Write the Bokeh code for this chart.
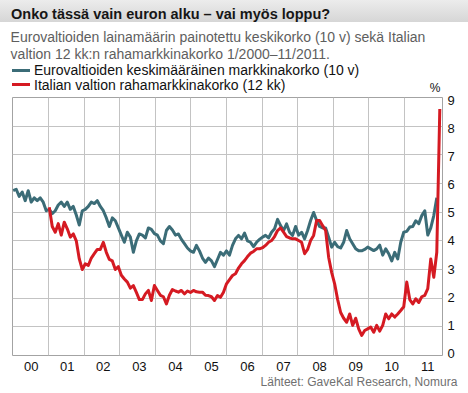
from bokeh.plotting import figure
from bokeh.models import Range1d, FixedTicker, Div
from bokeh.layouts import column
from bokeh.embed import file_html
from bokeh.resources import INLINE

# ---------------- data ----------------
year_labels = ["00", "01", "02", "03", "04", "05", "06", "07", "08", "09", "10", "11"]

# Eurozone weighted average 10y yield, monthly from 1/2000
euro = [5.75, 5.8, 5.55, 5.7, 5.4, 5.75, 5.35, 5.5, 5.4, 5.5, 5.35, 5.05,
        5.1, 4.95, 5.05, 5.25, 5.35, 5.2, 5.35, 5.1, 5.2, 4.9, 4.55, 5.05,
        5.1, 5.2, 5.35, 5.3, 5.4, 5.2, 5.05, 4.8, 4.5, 4.8, 4.7, 4.45,
        4.2, 3.95, 4.3, 4.13, 3.6, 4.0, 4.24, 4.2, 4.1, 4.45, 4.4, 4.25,
        4.2, 4.0, 3.9, 4.36, 4.5, 4.38, 4.2, 4.24, 4.05, 3.9, 3.75, 3.65,
        3.6, 3.84, 3.65, 3.4, 3.25, 3.4, 3.3, 3.1, 3.35, 3.6, 3.5, 3.65,
        3.5, 3.84, 4.07, 4.19, 4.07, 4.27, 4.0, 3.95, 3.8, 3.95, 4.05, 4.13,
        4.19, 4.1, 4.3, 4.42, 4.75, 4.53, 4.36, 4.59, 4.3, 4.19, 4.5, 4.2,
        4.3, 4.07, 4.36, 4.71, 4.99, 4.71, 4.5, 4.45, 4.45, 4.13, 3.78, 3.95,
        3.8, 3.75, 3.95, 4.36, 4.07, 3.9, 3.72, 3.65, 3.65, 3.7, 3.78, 3.72,
        3.66, 3.72, 3.85, 3.5, 3.72, 3.55, 3.3, 3.6, 3.37, 3.95, 4.3, 4.33,
        4.48, 4.5, 4.7, 4.6, 4.88, 5.05, 4.2, 4.45, 4.88, 5.5]

# Italian 12-month money market rate, monthly from 1/2001
italy_start = 12
italy = [5.17, 4.5, 4.3, 4.6, 4.2, 4.65, 4.42, 4.13, 4.24, 4.0, 3.37, 3.0,
         3.2, 3.14, 3.4, 3.55, 3.7, 3.7, 3.95, 3.6, 3.35, 3.3, 3.0, 3.1,
         2.8, 2.67, 2.56, 2.35, 2.44, 2.2, 1.95, 1.95, 2.15, 2.27, 1.92, 2.44,
         2.27, 2.1, 2.05, 1.8, 2.1, 2.3, 2.25, 2.21, 2.27, 2.15, 2.25, 2.2,
         2.27, 2.22, 2.21, 2.21, 2.1, 2.09, 2.05, 1.92, 2.09, 2.03, 2.21, 2.5,
         2.65, 2.79, 2.85, 3.05, 3.2, 3.31, 3.45, 3.57, 3.63, 3.72, 3.72, 3.76,
         3.84, 3.95, 4.01, 4.15, 4.36, 4.45, 4.3, 4.15, 4.1, 4.07, 4.07, 4.01,
         3.95, 3.55, 3.7, 4.01, 4.19, 4.71, 4.71, 4.53, 4.36, 3.43, 2.9, 2.5,
         1.95, 1.5, 1.3, 1.16, 1.45, 1.05, 1.3, 0.93, 0.7, 0.87, 0.93, 0.99,
         0.81, 1.05, 0.85, 1.05, 1.45, 1.28, 1.45, 1.34, 1.45, 1.57, 1.7, 2.56,
         1.95, 1.8, 1.98, 1.85, 2.05, 2.1, 2.33, 3.37, 2.73, 3.6, 8.6]

y_labels = ["0", "1", "2", "3", "4", "5", "6", "7", "8", "9"]

title_text = "Onko tässä vain euron alku – vai myös loppu?"
subtitle_1 = "Eurovaltioiden lainamäärin painotettu keskikorko (10 v) sekä Italian"
subtitle_2 = "valtion 12 kk:n rahamarkkinakorko 1/2000–11/2011."
legend_euro = "Eurovaltioiden keskimääräinen markkinakorko (10 v)"
legend_italy = "Italian valtion rahamarkkinakorko (12 kk)"
source_text = "Lähteet: GaveKal Research, Nomura"

BLUE = "#3b6c77"
RED = "#d51a22"
FONT = "Liberation Sans"

# ---------------- layout sizes ----------------
W = 468
TOP_H = 92
FIG_H = 285
SRC_H = 16
X0, X1 = -0.23, 142.9
n_months = len(euro)

# ---------------- header (title, subtitle, legend) ----------------
def txt(left, top, size, content, color="#111111", weight="normal"):
    return (f'<div style="position:absolute;left:{left}px;top:{top}px;font-size:{size}px;'
            f'line-height:{size}px;font-weight:{weight};color:{color};white-space:nowrap;">'
            f'{content}</div>')

def swatch(left, top, color):
    return (f'<div style="position:absolute;left:{left}px;top:{top}px;width:18px;height:3px;'
            f'background:{color};"></div>')

header_html = (
    f'<div style="position:relative;width:{W}px;height:{TOP_H}px;overflow:visible;'
    f'font-family:\'{FONT}\',Arial,sans-serif;">'
    f'<div style="position:absolute;left:0;top:0;width:{W}px;height:22px;'
    f'background:linear-gradient(#ececec,#d6d6d6);"></div>'
    + txt(11, 7.4, 14.5, title_text, "#161616", "bold")
    + txt(10.6, 30.4, 14, subtitle_1, "#5e5e5e")
    + txt(10.6, 47.3, 14, subtitle_2, "#5e5e5e")
    + swatch(12, 68.5, BLUE)
    + txt(34, 63.1, 14, legend_euro)
    + swatch(12, 82.8, RED)
    + txt(34, 78.1, 14, legend_italy)
    + txt(429.7, 81.5, 12, "%")
    + '</div>'
)
header = Div(text=header_html, width=W, height=TOP_H, margin=0,
             styles={"overflow": "visible"})

# ---------------- chart ----------------
p = figure(width=W, height=FIG_H, x_range=Range1d(X0, X1), y_range=Range1d(0, 9),
           output_backend="svg", toolbar_location=None, y_axis_location="right",
           min_border_left=12, min_border_right=26, min_border_top=5, min_border_bottom=22,
           margin=0)
p.background_fill_color = "white"
p.border_fill_color = None
p.outline_line_color = "#a3a3a3"
p.outline_line_width = 1

p.xgrid.ticker = FixedTicker(ticks=[k * n_months / 12 for k in range(1, 12)])
p.ygrid.ticker = FixedTicker(ticks=list(range(1, 9)))
for g in (p.xgrid[0], p.ygrid[0]):
    g.grid_line_color = "#c3c3c3"
    g.grid_line_width = 1

# x labels at mid-year
x_label_pos = [12 * k + 6 for k in range(len(year_labels))]
p.xaxis.ticker = FixedTicker(ticks=x_label_pos)
p.xaxis.major_label_overrides = {pos: lab for pos, lab in zip(x_label_pos, year_labels)}

# y labels (slightly compressed placement as in the original)
y_label_pos = [round(0.08 + 0.979 * k, 3) for k in range(len(y_labels))]
p.yaxis.ticker = FixedTicker(ticks=y_label_pos)
p.yaxis.major_label_overrides = {pos: lab for pos, lab in zip(y_label_pos, y_labels)}

for ax in (p.xaxis[0], p.yaxis[0]):
    ax.axis_line_color = None
    ax.major_tick_line_color = None
    ax.minor_tick_line_color = None
    ax.major_tick_out = 0
    ax.major_tick_in = 0
    ax.minor_tick_out = 0
    ax.major_label_text_font = FONT
    ax.major_label_text_font_size = "13px"
    ax.major_label_text_color = "#111111"
p.xaxis.major_label_standoff = 6
p.yaxis.major_label_standoff = 5

p.line(list(range(len(euro))), euro, line_color=BLUE, line_width=3, line_join="round")
p.line(list(range(italy_start, italy_start + len(italy))), italy, line_color=RED,
       line_width=3, line_join="round")

# ---------------- source ----------------
src_html = (f'<div style="position:relative;width:{W}px;height:{SRC_H}px;overflow:visible;'
            f'font-family:\'{FONT}\',Arial,sans-serif;">'
            f'<div style="position:absolute;right:10.7px;top:-1px;font-size:12px;line-height:12px;'
            f'color:#707070;white-space:nowrap;">{source_text}</div></div>')
source = Div(text=src_html, width=W, height=SRC_H, margin=0, styles={"overflow": "visible"})

layout = column(header, p, source, spacing=0, margin=0)

open("out.html", "w").write(file_html(layout, INLINE))
